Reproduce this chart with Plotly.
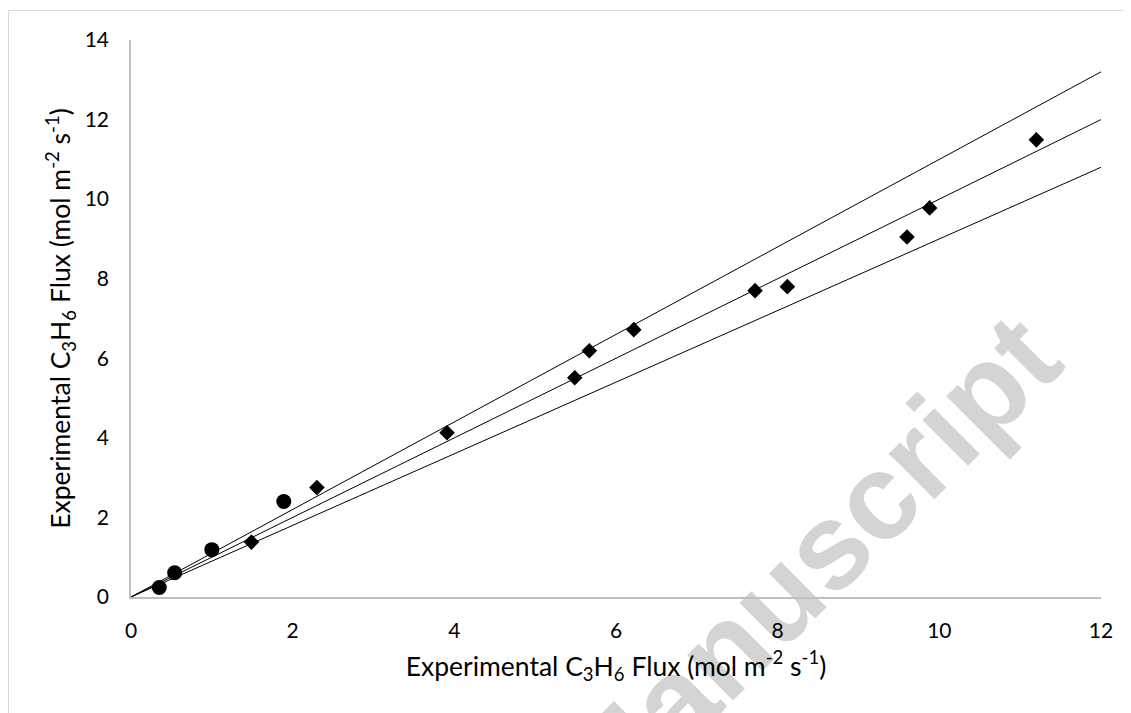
import plotly.graph_objects as go

# Data
circle_x = [0.35, 0.54, 1.0, 1.89]
circle_y = [0.24, 0.61, 1.19, 2.40]
diamond_x = [1.49, 2.30, 3.91, 5.49, 5.67, 6.22, 7.72, 8.12, 9.60, 9.88, 11.20]
diamond_y = [1.38, 2.75, 4.13, 5.51, 6.19, 6.72, 7.70, 7.80, 9.05, 9.78, 11.49]
line_x = [0, 12]
parity_slopes = [1.1, 1.0, 0.9]
x_ticks = [0, 2, 4, 6, 8, 10, 12]
y_ticks = [0, 2, 4, 6, 8, 10, 12, 14]

title_txt = "Experimental C<sub>3</sub>H<sub>6</sub> Flux (mol m<sup>-2</sup> s<sup>-1</sup>)"
FONT = "Lato"

fig = go.Figure()
for s in parity_slopes:
    fig.add_trace(go.Scatter(x=line_x, y=[v * s for v in line_x], mode="lines",
                             line=dict(color="black", width=1), showlegend=False,
                             hoverinfo="skip"))
fig.add_trace(go.Scatter(x=circle_x, y=circle_y, mode="markers",
                         marker=dict(symbol="circle", size=15, color="black"),
                         showlegend=False))
fig.add_trace(go.Scatter(x=diamond_x, y=diamond_y, mode="markers",
                         marker=dict(symbol="diamond", size=12, color="black"),
                         showlegend=False))

OFF = 8  # body margin of the page
W, H = 1131 - OFF, 713 - OFF
L, T = 131 - OFF, 40 - OFF
R = W - (1101 - OFF)
B = H - (597.5 - OFF)
pw, ph = W - L - R, H - T - B

def px(x):  # window pixel -> paper
    return (x - OFF - L) / pw

def py(y):
    return (H - B - (y - OFF)) / ph

fig.update_layout(
    width=W, height=H,
    margin=dict(l=L, r=R, t=T, b=B),
    paper_bgcolor="white", plot_bgcolor="white",
    font=dict(family=FONT, color="black"),
    xaxis=dict(range=[0, 12], tickvals=x_ticks, showgrid=False, zeroline=False,
               showline=True, linecolor="#bfbfbf", linewidth=1.5,
               ticks="", tickfont=dict(size=21, family=FONT), ticklabelstandoff=14,
               title=dict(text=title_txt, font=dict(size=26.5, family=FONT), standoff=16)),
    yaxis=dict(range=[0, 14], tickvals=y_ticks, showgrid=False, zeroline=False,
               showline=True, linecolor="#bfbfbf", linewidth=1.5,
               ticks="", tickfont=dict(size=21, family=FONT), ticklabelstandoff=16,
               title=dict(text=title_txt, font=dict(size=26.5, family=FONT), standoff=6)),
    shapes=[
        dict(type="rect", xref="paper", yref="paper",
             x0=px(8.5), x1=px(1300), y0=py(900), y1=py(10.5),
             line=dict(color="#d9d9d9", width=1), fillcolor="rgba(0,0,0,0)",
             layer="below"),
        dict(type="line", xref="paper", yref="paper",
             x0=px(593), x1=px(593), y0=py(765), y1=py(765),
             line=dict(color="rgba(0,0,0,0)", width=0), layer="below",
             label=dict(text="<b>Accepted Manuscript</b>", textangle=-45,
                        textposition="middle", xanchor="center", yanchor="middle",
                        padding=0,
                        font=dict(family="Liberation Sans", size=122, color="#d4d4d4"))),
    ],
)

fig.write_html("out.html")
